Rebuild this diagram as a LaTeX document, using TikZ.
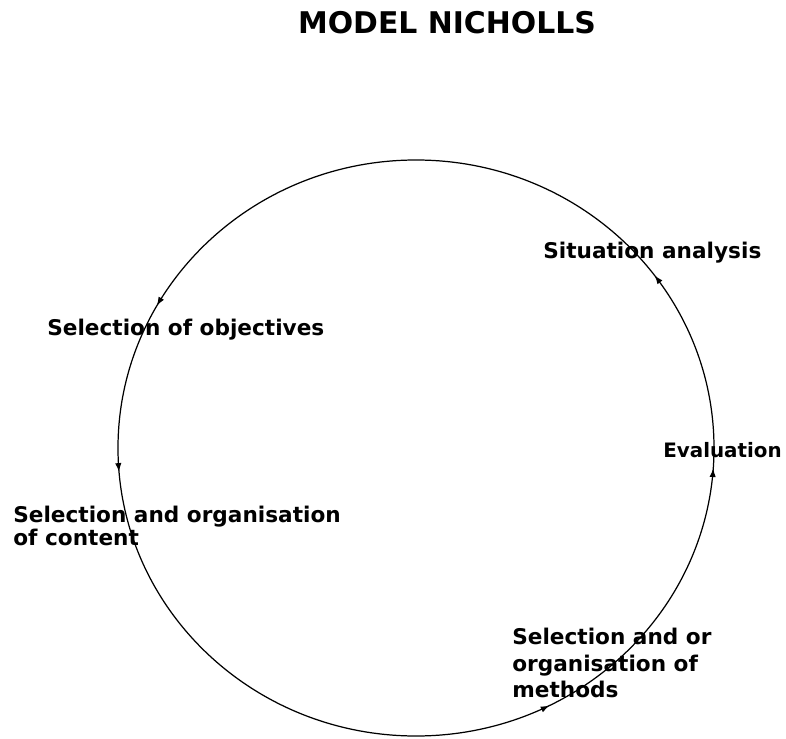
\documentclass[tikz,border=0pt]{standalone}
\usepackage{fontspec}
\setmainfont{DejaVu Sans}
\usepackage{tikz}
\usetikzlibrary{arrows.meta,decorations.markings}

\tikzset{
    stage/.style={anchor=west, inner sep=0pt, align=left, font=\bfseries\fontsize{12.3}{13.1}\selectfont},
    cycle/.style={line width=0.7pt, postaction={decorate}, decoration={markings,
        mark=at position 0.101 with {\arrow{Latex[length=5pt,width=3.6pt]}},
        mark=at position 0.419 with {\arrow{Latex[length=5pt,width=3.6pt]}},
        mark=at position 0.513 with {\arrow{Latex[length=5pt,width=3.6pt]}},
        mark=at position 0.825 with {\arrow{Latex[length=5pt,width=3.6pt]}},
        mark=at position 0.989 with {\arrow{Latex[length=5pt,width=3.6pt]}}}}
}

\begin{document}
\begin{tikzpicture}[x=0.2mm, y=0.2mm]
                \useasboundingbox (0,0) rectangle (786,738);
                % the cycle
                \coordinate (centre) at (416,290);
                \draw [cycle] (centre) ellipse (298 and 288);
                % title
                \node [font=\bfseries\fontsize{17}{19}\selectfont, inner sep=0pt] (title) at (447,715) {MODEL NICHOLLS};
                % stages
                \node [stage] (situation) at (543,485) {Situation analysis};
                \node [stage, font=\bfseries\fontsize{11.3}{13}\selectfont] (evaluation) at (663,288) {Evaluation};
                \node [stage] (objectives) at (47,408) {Selection of objectives};
                \node [stage] (content) at (13,212) {Selection and organisation\\of content};
                \node [stage] (methods) at (512,75) {Selection and or\\[2pt]organisation of\\[2pt]methods};
\end{tikzpicture}
\end{document}
